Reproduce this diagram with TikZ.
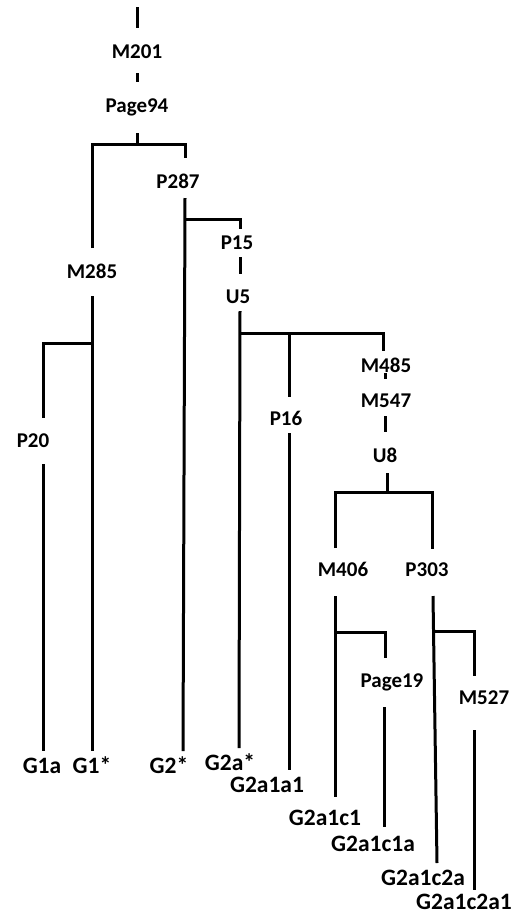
\documentclass[tikz,border=0pt]{standalone}
\usepackage{fontspec}
\setmainfont{Carlito}
\begin{document}
\begin{tikzpicture}[x=1pt,y=1pt,
  lbl/.style={inner sep=0pt,text height=13.5pt,text depth=0pt,font=\fontsize{21}{25}\selectfont\bfseries},
  leaf/.style={inner sep=0pt,text height=15.1pt,text depth=0pt,font=\fontsize{23.5}{28}\selectfont\bfseries},
  edge/.style={line width=3pt,line join=miter}]
\useasboundingbox (0,0) rectangle (518,-916);
% internal labels
\node[lbl] (M201) at (137,-52) {M201};
\node[lbl] (Page94) at (137,-106) {Page94};
\node[lbl] (P287) at (178,-182) {P287};
\node[lbl] (M285) at (92,-272) {M285};
\node[lbl] (P15) at (237,-243) {P15};
\node[lbl] (U5) at (238,-297) {U5};
\node[lbl] (P16) at (286,-419) {P16};
\node[lbl] (M485) at (386,-366) {M485};
\node[lbl] (M547) at (386,-401) {M547};
\node[lbl] (U8) at (385,-456) {U8};
\node[lbl] (M406) at (343,-570) {M406};
\node[lbl] (P303) at (427,-570) {P303};
\node[lbl] (Page19) at (392,-681) {Page19};
\node[lbl] (M527) at (484,-698) {M527};
\node[lbl] (P20) at (33,-441) {P20};
% leaves
\node[leaf] (G1a) at (42,-766) {G1a};
\node[leaf] (G1s) at (92,-766) {G1*};
\node[leaf] (G2s) at (169,-766) {G2*};
\node[leaf] (G2as) at (230,-763) {G2a*};
\node[leaf] (G2a1a1) at (267,-785) {G2a1a1};
\node[leaf] (G2a1c1) at (325,-818) {G2a1c1};
\node[leaf] (G2a1c1a) at (373,-844) {G2a1c1a};
\node[leaf] (G2a1c2a) at (423,-878) {G2a1c2a};
\node[leaf] (G2a1c2a1) at (464,-902) {G2a1c2a1};
% junctions
\coordinate (top) at (137,-7);
\coordinate (j1) at (137,-144);
\coordinate (j2) at (185,-219);
\coordinate (j3) at (240,-333);
\coordinate (j3m) at (289,-333);
\coordinate (j4) at (387,-492);
\coordinate (j5) at (335,-632);
\coordinate (j6) at (434,-631);
\coordinate (j7) at (92,-343);
% connectors
\draw[edge] (top) -- ([yshift=24pt]M201.center);
\draw[edge] ([yshift=-21pt]M201.center) -- ([yshift=24pt]Page94.center);
\draw[edge] ([yshift=-27pt]Page94.center) -- (j1);
\draw[edge] ([yshift=24pt]M285.center) |- (j1) -| ([xshift=7pt,yshift=24pt]P287.center);
\draw[edge] ([xshift=7pt,yshift=-16pt]P287.center) -- ([xshift=14pt,yshift=15pt]G2s.center);
\draw[edge] (j2) -| ([xshift=3pt,yshift=14pt]P15.center);
\draw[edge] ([xshift=3pt,yshift=-14pt]P15.center) -- ([xshift=2pt,yshift=23pt]U5.center);
\draw[edge] ([xshift=2pt,yshift=-14pt]U5.center) -- ([xshift=9pt,yshift=15pt]G2as.center);
\draw[edge] (j3) -| ([xshift=-3pt,yshift=15pt]M485.center);
\draw[edge] (j3m) -- ([xshift=3pt,yshift=22pt]P16.center);
\draw[edge] ([xshift=3pt,yshift=-14pt]P16.center) -- ([xshift=22pt,yshift=15pt]G2a1a1.center);
\draw[edge] ([xshift=-1pt,yshift=-7pt]M485.center) -- ([xshift=-1pt,yshift=22pt]M547.center);
\draw[edge] ([xshift=-1pt,yshift=-15pt]M547.center) -- ([yshift=24pt]U8.center);
\draw[edge] ([xshift=2pt,yshift=-17pt]U8.center) -- (j4);
\draw[edge] ([xshift=-8pt,yshift=22pt]M406.center) |- (j4) -| ([xshift=5pt,yshift=21pt]P303.center);
\draw[edge] ([xshift=-8pt,yshift=-26pt]M406.center) -- ([xshift=10pt,yshift=21pt]G2a1c1.center);
\draw[edge] (j5) -| ([xshift=-7pt,yshift=23pt]Page19.center);
\draw[edge] ([xshift=-8pt,yshift=-26pt]Page19.center) -- ([xshift=11pt,yshift=17pt]G2a1c1a.center);
\draw[edge] ([xshift=6pt,yshift=-26pt]P303.center) -- ([xshift=14pt,yshift=15pt]G2a1c2a.center);
\draw[edge] (j6) -| ([xshift=-10pt,yshift=22pt]M527.center);
\draw[edge] ([xshift=-10pt,yshift=-32pt]M527.center) -- ([xshift=10pt,yshift=12pt]G2a1c2a1.center);
\draw[edge] (j7) -| ([xshift=10pt,yshift=23pt]P20.center);
\draw[edge] ([yshift=-24pt]M285.center) -- ([yshift=15pt]G1s.center);
\draw[edge] ([xshift=10pt,yshift=-23pt]P20.center) -- ([xshift=1pt,yshift=15pt]G1a.center);
\end{tikzpicture}
\end{document}
